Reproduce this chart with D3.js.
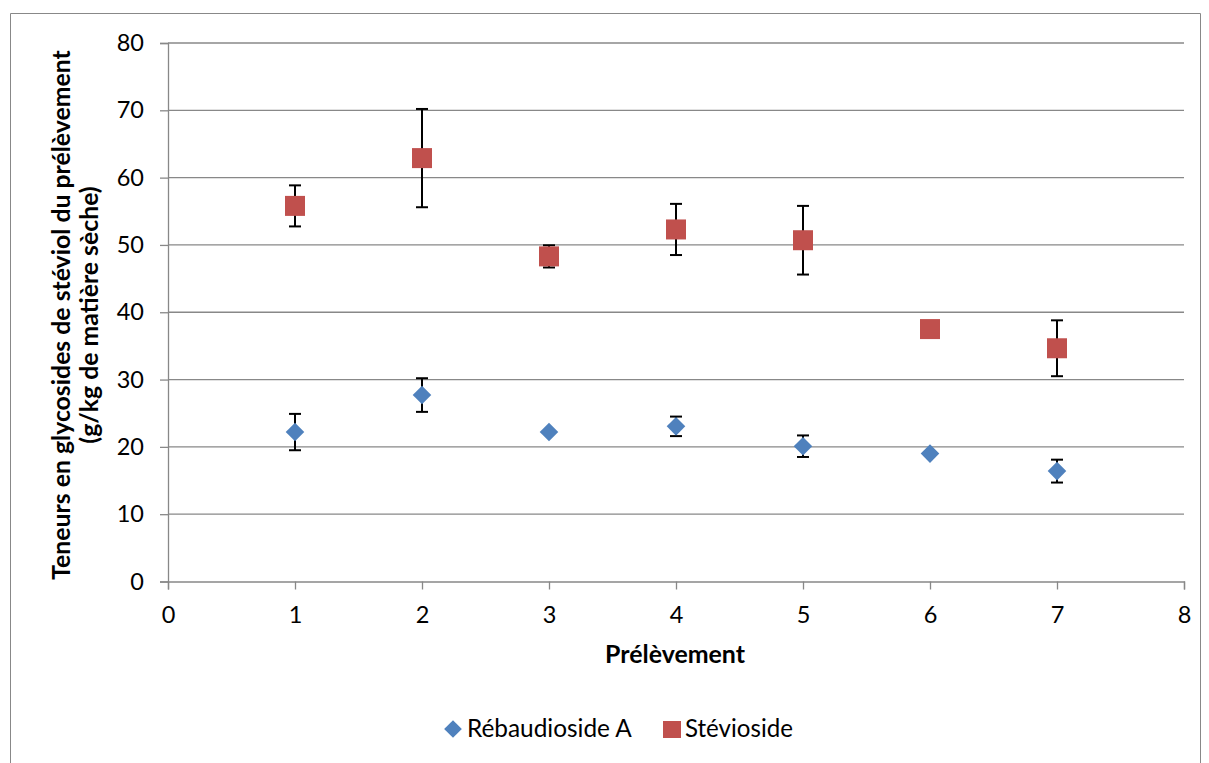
<!DOCTYPE html>
<html>
<head>
<meta charset="utf-8">
<script src="https://cdn.jsdelivr.net/npm/d3@7"></script>
<style>
  html, body { margin: 0; padding: 0; background: #fff; }
  svg { display: block; font-family: Lato, "Open Sans", sans-serif; }
</style>
</head>
<body>
<svg id="chart" width="1209" height="763"></svg>
<script>
// ---- data ----
const prelevements = [1, 2, 3, 4, 5, 6, 7];
const rebaudiosideA = [22.2, 27.7, 22.2, 23.05, 20.1, 19.0, 16.4];
const rebaudiosideAErr = [2.7, 2.5, 0, 1.45, 1.6, 0, 1.7];
const stevioside = [55.8, 62.9, 48.3, 52.3, 50.7, 37.5, 34.65];
const steviosideErr = [3.05, 7.3, 1.65, 3.8, 5.1, 0, 4.15];
const xTicks = [0, 1, 2, 3, 4, 5, 6, 7, 8];
const yTicks = [0, 10, 20, 30, 40, 50, 60, 70, 80];
const seriesNames = ["Rébaudioside A", "Stévioside"];
const xTitle = "Prélèvement";
const yTitleLines = ["Teneurs en glycosides de stéviol du prélèvement", "(g/kg de matière sèche)"];

// ---- layout ----
const svg = d3.select("#chart");
const plotL = 168, plotR = 1184, plotT = 43, plotB = 581.5;
const x = d3.scaleLinear().domain([0, 8]).range([plotL, plotR]);
const y = d3.scaleLinear().domain([0, 80]).range([plotB, plotT]);
const gridColor = "#888888";
const blue = "#4F81BD", red = "#C0504D";
const FONT = "Lato, 'Open Sans', sans-serif";

// scale a text element's font size so that its rendered width matches target
function fit(sel, target) {
  const w = sel.node().getComputedTextLength();
  const fs = parseFloat(sel.attr("font-size"));
  if (w > 0) sel.attr("font-size", fs * target / w);
  return sel;
}

// outer border
svg.append("path")
  .attr("d", "M10.5,770 V13.5 H1200.5 V770")
  .attr("fill", "none").attr("stroke", "#888").attr("stroke-width", 1);

// gridlines
svg.append("g").selectAll("line").data(yTicks.filter(d => d > 0)).join("line")
  .attr("x1", plotL).attr("x2", plotR)
  .attr("y1", d => y(d)).attr("y2", d => y(d))
  .attr("stroke", gridColor).attr("stroke-width", 1.3);

// y axis
const yAxis = d3.axisLeft(y).tickValues(yTicks).tickSize(8).tickPadding(16).tickFormat(d3.format("d"));
const gy = svg.append("g").attr("transform", `translate(${plotL},0)`).call(yAxis);
gy.select(".domain").attr("stroke", gridColor).attr("stroke-width", 1.3);
gy.selectAll(".tick line").attr("stroke", gridColor).attr("stroke-width", 1.3);
gy.selectAll(".tick text").attr("font-size", 23.5).attr("fill", "#000").attr("font-family", FONT);

// x axis
const xAxis = d3.axisBottom(x).tickValues(xTicks).tickSize(8).tickPadding(17).tickFormat(d3.format("d"));
const gx = svg.append("g").attr("transform", `translate(0,${plotB})`).call(xAxis);
gx.select(".domain").attr("stroke", gridColor).attr("stroke-width", 1.3);
gx.selectAll(".tick line").attr("stroke", gridColor).attr("stroke-width", 1.3);
gx.selectAll(".tick text").attr("font-size", 23.5).attr("fill", "#000").attr("font-family", FONT);

// axis titles
const xt = svg.append("text").attr("x", 675).attr("y", 663)
  .attr("text-anchor", "middle").attr("font-size", 21).attr("font-weight", "bold")
  .text(xTitle);
fit(xt, 140);

const yt = svg.append("text").attr("transform", `translate(77,315) rotate(-90)`)
  .attr("text-anchor", "middle").attr("font-size", 21).attr("font-weight", "bold");
const yt1 = yt.append("tspan").attr("x", 0).attr("dy", -7).text(yTitleLines[0]);
const w1 = yt1.node().getComputedTextLength();
yt.attr("font-size", 21 * 530 / w1);
yt.append("tspan").attr("x", 0).attr("dy", 28).text(yTitleLines[1]);

// error bars
function errorBars(vals, errs) {
  const g = svg.append("g").attr("stroke", "#000").attr("stroke-width", 2);
  prelevements.forEach((p, i) => {
    if (!errs[i]) return;
    const cx = x(p);
    const y1 = y(vals[i] + errs[i]), y2 = y(vals[i] - errs[i]);
    g.append("line").attr("x1", cx).attr("x2", cx).attr("y1", y1).attr("y2", y2);
    g.append("line").attr("x1", cx - 6).attr("x2", cx + 6).attr("y1", y1).attr("y2", y1);
    g.append("line").attr("x1", cx - 6).attr("x2", cx + 6).attr("y1", y2).attr("y2", y2);
  });
}
errorBars(stevioside, steviosideErr);
errorBars(rebaudiosideA, rebaudiosideAErr);

// markers
const diamond = d3.symbol().type(d3.symbolDiamond2).size(220);
svg.append("g").selectAll("path").data(prelevements).join("path")
  .attr("d", diamond)
  .attr("transform", (d, i) => `translate(${x(d)},${y(rebaudiosideA[i])})`)
  .attr("fill", blue);

svg.append("g").selectAll("rect").data(prelevements).join("rect")
  .attr("x", d => x(d) - 10).attr("width", 20).attr("height", 20)
  .attr("y", (d, i) => y(stevioside[i]) - 10)
  .attr("fill", red);

// legend
const lg = svg.append("g");
lg.append("path").attr("d", d3.symbol().type(d3.symbolDiamond2).size(200))
  .attr("transform", "translate(453,729)").attr("fill", blue);
const l1 = lg.append("text").attr("x", 467).attr("y", 737).attr("font-size", 22).text(seriesNames[0]);
fit(l1, 165);
lg.append("rect").attr("x", 663).attr("y", 721).attr("width", 18).attr("height", 17).attr("fill", red);
const l2 = lg.append("text").attr("x", 685).attr("y", 737).attr("font-size", 22).text(seriesNames[1]);
fit(l2, 108);
</script>
</body>
</html>
